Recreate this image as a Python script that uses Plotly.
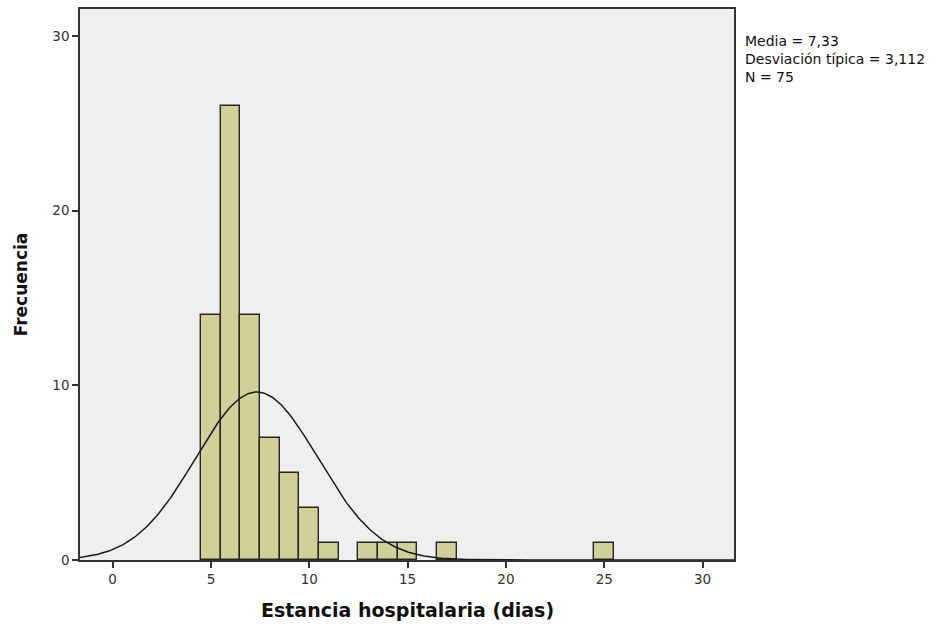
import numpy as np
import plotly.graph_objects as go

# Histogram data (bin centres, width 1 day)
bin_centers = [5, 6, 7, 8, 9, 10, 11, 13, 14, 15, 17, 25]
frequencies = [14, 26, 14, 7, 5, 3, 1, 1, 1, 1, 1, 1]

mean_val = 7.33
sd_val = 3.112
n_val = 75
bin_width = 1

x_ticks = [0, 5, 10, 15, 20, 25, 30]
y_ticks = [0, 10, 20, 30]

x_range = [-1.66, 31.6]
y_range = [0, 31.54]

x_title = "Estancia hospitalaria (dias)"
y_title = "Frecuencia"

stats_lines = [
    f"Media = {str(mean_val).replace('.', ',')}",
    f"Desviación típica = {str(sd_val).replace('.', ',')}",
    f"N = {n_val}",
]

# Fitted normal curve (from reported mean / sd / N)
xs = np.linspace(x_range[0], x_range[1], 400)
ys = n_val * bin_width / (sd_val * np.sqrt(2 * np.pi)) * np.exp(-0.5 * ((xs - mean_val) / sd_val) ** 2)

FONT = "DejaVu Sans, Verdana, sans-serif"

fig = go.Figure()
fig.add_trace(go.Bar(
    x=bin_centers, y=frequencies, width=bin_width,
    marker=dict(color="#D3CF98", line=dict(color="#262626", width=1.4)),
    hoverinfo="x+y",
))
fig.add_trace(go.Scatter(
    x=xs, y=ys, mode="lines",
    line=dict(color="#1a1a1a", width=1.5),
    hoverinfo="skip",
))

axis_common = dict(
    showline=True, linecolor="#333333", linewidth=1.5, mirror=True,
    ticks="outside", ticklen=6, tickwidth=1.5, tickcolor="#333333",
    showgrid=False, zeroline=False,
    tickfont=dict(family=FONT, size=13.5, color="#333333"),
)

fig.update_layout(
    width=938, height=624,
    margin=dict(l=80, r=204, t=9, b=64),
    paper_bgcolor="white", plot_bgcolor="#EFEFEF",
    showlegend=False, bargap=0,
    xaxis=dict(range=x_range, tickvals=x_ticks, automargin=False, **axis_common),
    yaxis=dict(
        range=y_range, tickvals=y_ticks,
        title=dict(text=f"<b>{y_title}</b>", standoff=20,
                   font=dict(family=FONT, size=17, color="#111111")),
        **axis_common,
    ),
    annotations=[
        dict(
            xref="paper", yref="paper", x=1.016, y=0.9085, xanchor="left", yanchor="middle",
            align="left", showarrow=False, borderpad=0,
            text="<br>".join(stats_lines),
            font=dict(family=FONT, size=14, color="#111111"),
        ),
        dict(
            xref="paper", yref="paper", x=0.5, y=-0.0907, xanchor="center", yanchor="middle",
            showarrow=False, borderpad=0,
            text=f"<b>{x_title}</b>",
            font=dict(family=FONT, size=19, color="#111111"),
        ),
    ],
)

fig.write_html("out.html")
